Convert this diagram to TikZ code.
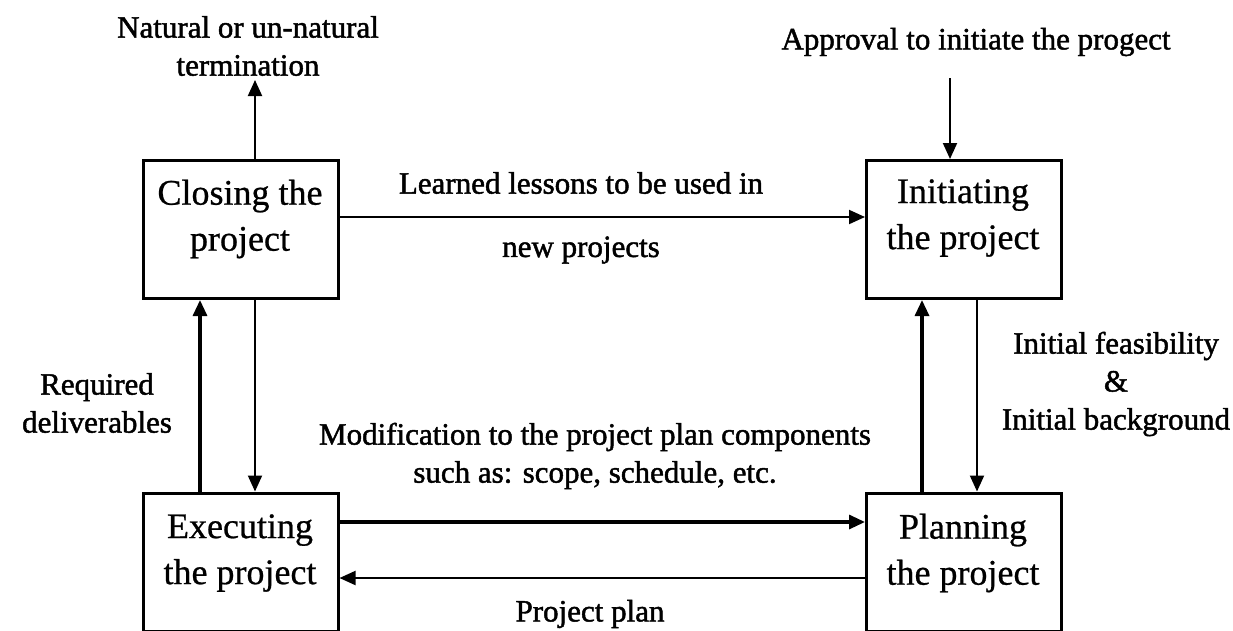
\documentclass[tikz,border=0pt]{standalone}
\usepackage{fontspec}
\setmainfont{Liberation Serif}
\newfontfamily\lblfont[FakeBold=1.5]{Liberation Serif}
\newfontfamily\boxfont[FakeBold=0.7]{Liberation Serif}
\usetikzlibrary{arrows.meta}
\tikzset{
  phase/.style={draw, line width=3pt, minimum width=195pt, minimum height=138pt, inner sep=0pt},
  boxtext/.style={align=center, font=\boxfont\fontsize{36}{46}\selectfont, inner sep=0pt},
  lbl/.style={align=center, font=\lblfont\fontsize{31}{38}\selectfont, inner sep=0pt},
  arr/.style={line width=2pt, -{Triangle[length=16pt,width=14pt]}},
  arrthick/.style={line width=3.2pt, -{Triangle[length=16pt,width=14pt]}}
}
\begin{document}
\begin{tikzpicture}[x=1pt,y=-1pt]
\useasboundingbox[fill=white] (0,0) rectangle (1233,630);
% boxes
\node[phase] (clos) at (240.5,229.5) {};
\node[phase] (init) at (964,229.5) {};
\node[phase] (exec) at (240.5,562) {};
\node[phase] (plan) at (964,562) {};
% box texts
\node[boxtext] (closT) at (240,219) {Closing the\\project};
\node[boxtext] (initT) at (963,218) {Initiating\\the project};
\node[boxtext] (execT) at (240,553) {Executing\\the project};
\node[boxtext] (planT) at (963,553) {Planning\\the project};
% labels
\node[lbl] (term) at (248,46) {Natural or un-natural\\termination};
\node[lbl] (appr) at (976,42) {Approval to initiate the progect};
\node[lbl] (learn1) at (581,183) {Learned lessons to be used in};
\node[lbl] (learn2) at (581,250) {new projects};
\node[lbl] (modif) at (595,456) {Modification to the project plan components\\such as: scope, schedule, etc.};
\node[lbl] (pplan) at (590,614) {Project plan};
\node[lbl] (deliv) at (97,403) {Required\\deliverables};
\node[lbl] (feas) at (1116,384) {Initial feasibility\\\&\\Initial background};
% helper coordinates
\coordinate (termtip) at (255,80);
\coordinate (apprtail) at (950,78);
\coordinate (xup) at (200,0);
\coordinate (xdown) at (255,0);
\coordinate (xrup) at (922,0);
\coordinate (xrdown) at (977,0);
\coordinate (ylearn) at (0,217);
\coordinate (yfwd) at (0,522);
\coordinate (yback) at (0,578);
% connectors
\draw[arr] (clos.north -| termtip) -- (termtip);
\draw[arr] (apprtail) -- (apprtail |- init.north);
\draw[arr] (clos.east |- ylearn) -- (init.west |- ylearn);
\draw[arrthick] (exec.north -| xup) -- (clos.south -| xup);
\draw[arr] (clos.south -| xdown) -- (exec.north -| xdown);
\draw[arrthick] (plan.north -| xrup) -- (init.south -| xrup);
\draw[arr] (init.south -| xrdown) -- (plan.north -| xrdown);
\draw[arrthick] (exec.east |- yfwd) -- (plan.west |- yfwd);
\draw[arr] (plan.west |- yback) -- (exec.east |- yback);
\end{tikzpicture}
\end{document}
